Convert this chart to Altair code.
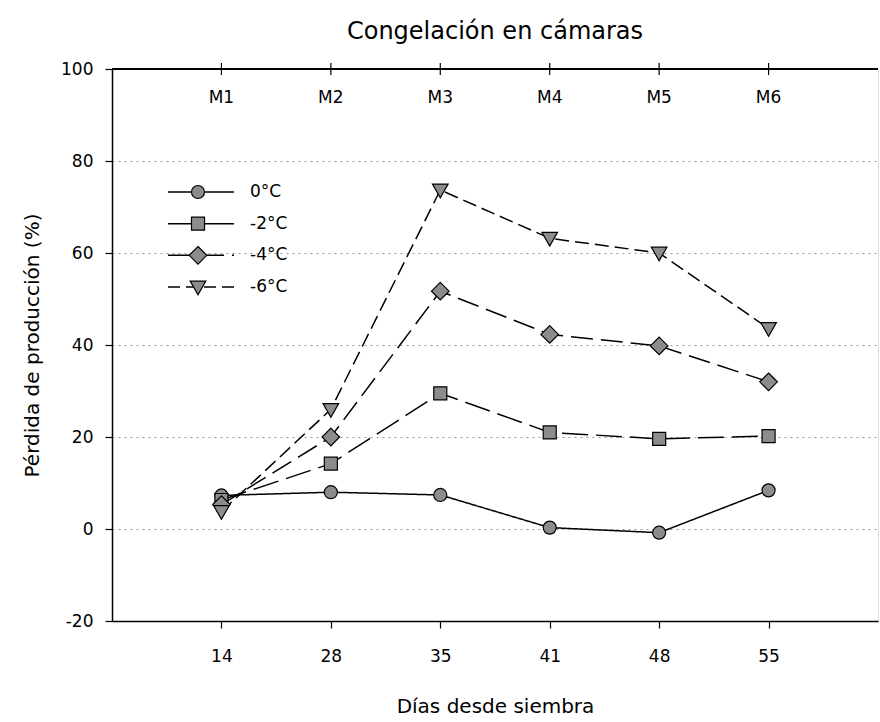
import altair as alt
import pandas as pd

days = ["14", "28", "35", "41", "48", "55"]
stages = ["M1", "M2", "M3", "M4", "M5", "M6"]
series = ["0°C", "-2°C", "-4°C", "-6°C"]
v0 = [7.3, 8.0, 7.4, 0.3, -0.8, 8.4]
v2 = [6.3, 14.2, 29.5, 21.0, 19.6, 20.2]
v4 = [5.3, 20.0, 51.7, 42.3, 39.8, 32.0]
v6 = [3.8, 26.0, 73.7, 63.2, 60.0, 43.6]
values = [v0, v2, v4, v6]

shapes = ["circle", "square", "M0,-1.35L1.35,0L0,1.35L-1.35,0Z", "M-1.2,-0.9L1.2,-0.9L0,1.2Z"]
dashes = [[1, 0], [26, 8], [22, 8], [14, 6]]
legend_dashes = [[1, 0], [1, 0], [56, 8], [12, 6]]

FONT = "DejaVu Sans"
W, H = 766, 552

rows = []
for s, vals in zip(series, values):
    for d, v in zip(days, vals):
        rows.append({"series": s, "day": d, "value": v})
df = pd.DataFrame(rows)

xscale = alt.Scale(type="point", padding=1, domain=days)
yscale = alt.Scale(domain=[-20, 100], nice=False, zero=False)

x = alt.X("day:O", scale=xscale, sort=days,
          axis=alt.Axis(title="Días desde siembra", labelAngle=0, grid=False,
                        tickSize=7, labelPadding=20, titlePadding=32,
                        domainColor="black", tickColor="black", labelColor="black",
                        labelFontSize=17, titleFontSize=20, labelFont=FONT, titleFont=FONT,
                        titleFontWeight="normal", domainWidth=1.5, tickWidth=1.2))
y = alt.Y("value:Q", scale=yscale,
          axis=alt.Axis(title="Pérdida de producción (%)", values=[-20, 0, 20, 40, 60, 80, 100],
                        labelExpr="datum.value + ''",
                        grid=True, gridDash=[2, 4], gridColor="#999999", gridWidth=1,
                        tickSize=7, labelPadding=12, titlePadding=18,
                        domainColor="black", tickColor="black", labelColor="black",
                        labelFontSize=17, titleFontSize=20, labelFont=FONT, titleFont=FONT,
                        titleFontWeight="normal", domainWidth=1.5, tickWidth=1.2))

xs = alt.X("day:O", scale=xscale, sort=days)

dash_scale = alt.Scale(domain=series, range=dashes)
shape_scale = alt.Scale(domain=series, range=shapes)

lines = alt.Chart(df).mark_line(color="black", strokeWidth=1.5).encode(
    x=x, y=y,
    detail="series:N",
    strokeDash=alt.StrokeDash("series:N", scale=dash_scale, legend=None),
)

points = alt.Chart(df).mark_point(filled=True, fill="#8c8c8c", stroke="black",
                                  strokeWidth=1.2, opacity=1, size=170).encode(
    x=xs,
    y=alt.Y("value:Q", scale=yscale, axis=None),
    shape=alt.Shape("series:N", scale=shape_scale, legend=None),
)

# top border with ticks and stage labels
top_df = pd.DataFrame({"day": days, "stage": stages})
top_line = alt.Chart(top_df).mark_rule(color="black", strokeWidth=1.5).encode(
    x=alt.value(0), x2=alt.value(W), y=alt.value(0))
top_ticks = alt.Chart(top_df).mark_rule(color="black", strokeWidth=1.2).encode(
    x=xs, y=alt.value(-6), y2=alt.value(6))
top_text = alt.Chart(top_df).mark_text(font=FONT, fontSize=17, color="black").encode(
    x=xs, y=alt.value(29), text="stage:N")

# manual legend
leg_df = pd.DataFrame({"series": series})
leg_y = alt.Y("series:N", scale=alt.Scale(type="point", domain=series, range=[123, 218], padding=0), axis=None)
leg_lines = alt.Chart(leg_df).mark_rule(color="black", strokeWidth=1.5).encode(
    x=alt.value(56), x2=alt.value(122), y=leg_y,
    strokeDash=alt.StrokeDash("series:N", scale=alt.Scale(domain=series, range=legend_dashes), legend=None))
leg_pts = alt.Chart(leg_df).mark_point(filled=True, fill="#8c8c8c", stroke="black",
                                       strokeWidth=1.2, opacity=1, size=170).encode(
    x=alt.value(86), y=leg_y,
    shape=alt.Shape("series:N", scale=shape_scale, legend=None))
leg_text = alt.Chart(leg_df).mark_text(font=FONT, fontSize=17, color="black", align="left").encode(
    x=alt.value(138), y=leg_y, text="series:N")

legend = alt.layer(leg_lines, leg_pts, leg_text)

chart = alt.layer(lines, points, top_line, top_ticks, top_text, legend).resolve_scale(
    y="independent", strokeDash="independent"
).properties(
    width=W, height=H,
    title=alt.TitleParams("Congelación en cámaras", font=FONT, fontSize=24,
                          fontWeight="normal", color="black", offset=16, anchor="middle"),
    autosize=alt.AutoSizeParams(type="none"),
    padding={"left": 112, "top": 69, "right": 2, "bottom": 101},
).configure_view(stroke=None).configure(background="white")

chart.save("out.html", embed_options={"renderer": "svg", "actions": False})
